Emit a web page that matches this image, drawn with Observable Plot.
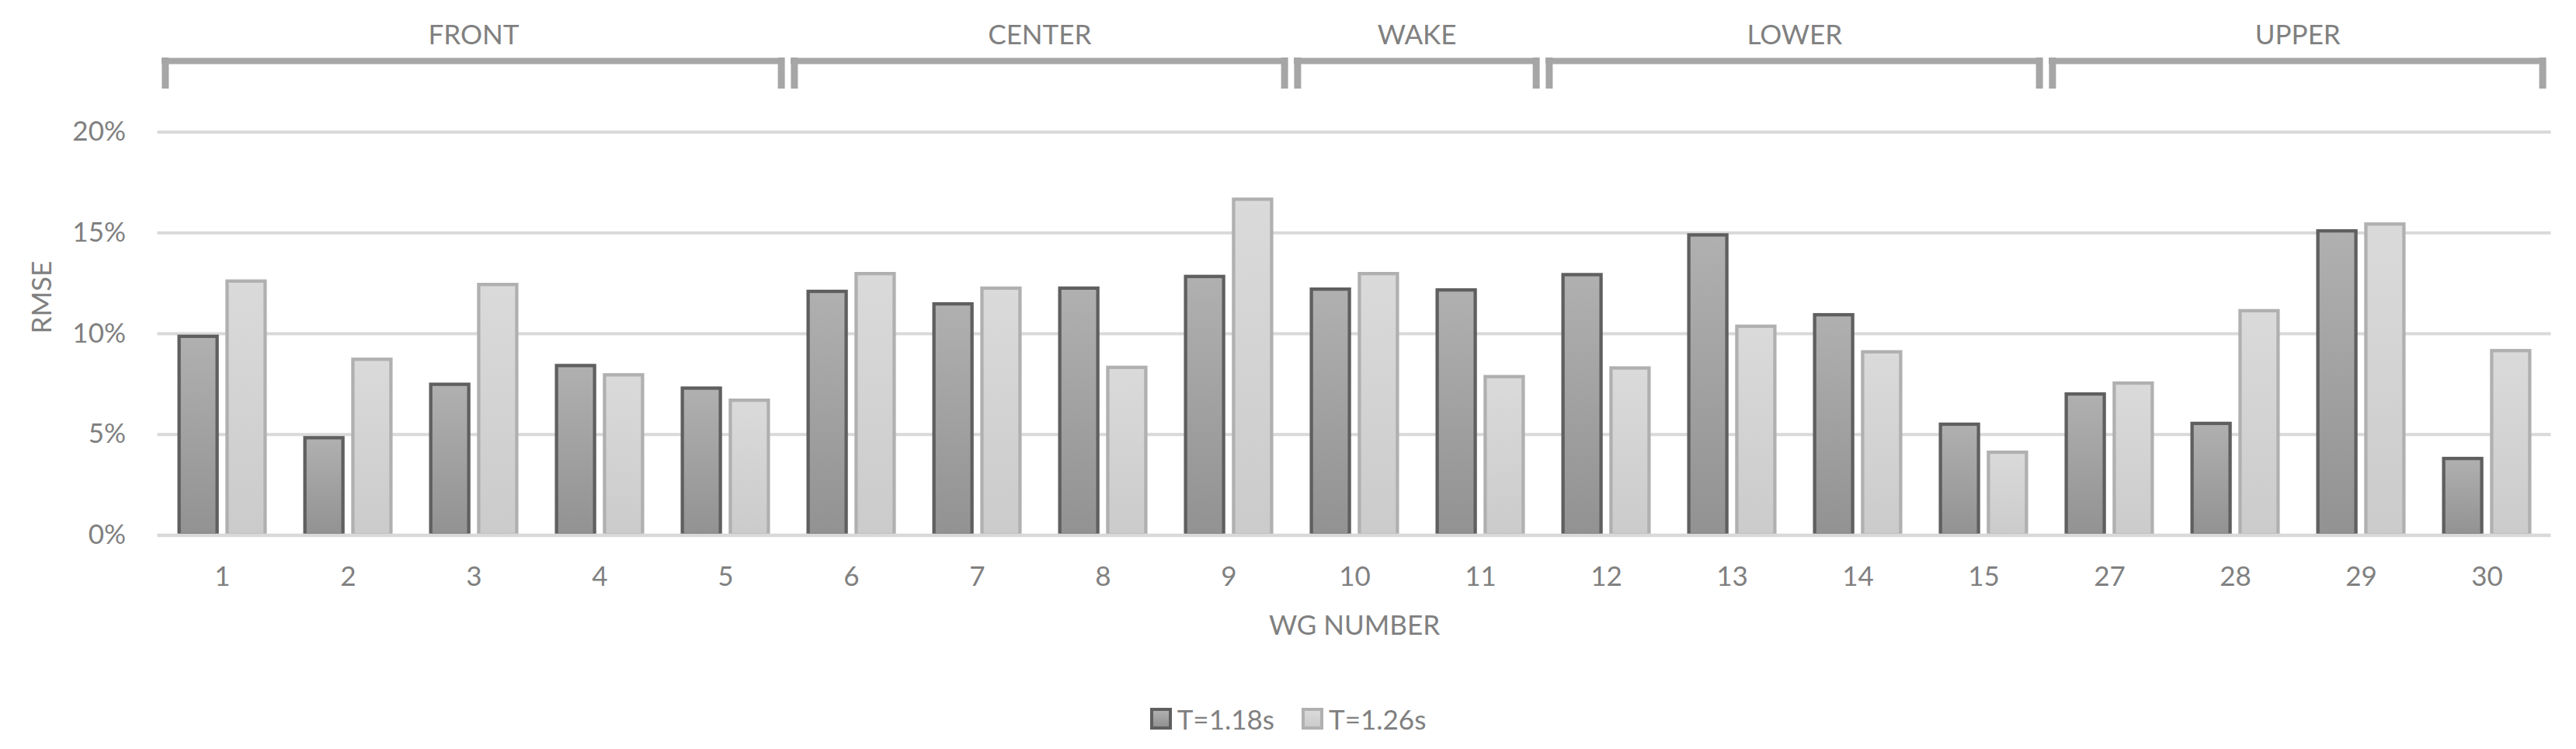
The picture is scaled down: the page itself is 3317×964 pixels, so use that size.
<!DOCTYPE html>
<html>
<head>
<meta charset="utf-8">
<script src="https://cdn.jsdelivr.net/npm/d3@7"></script>
<script src="https://cdn.jsdelivr.net/npm/@observablehq/plot@0.6"></script>
<style>
  html, body { margin: 0; padding: 0; background: #ffffff; }
  body { width: 3317px; height: 964px; position: relative; overflow: hidden; }
  #chart { position: absolute; left: 0; top: 0; }
  #legend {
    position: absolute; left: 0; top: 900px; width: 3317px; height: 50px;
    display: flex; justify-content: center; align-items: center;
    font-family: Lato, "Open Sans", sans-serif; font-size: 35px; color: #808080;
  }
  .sw { display: inline-block; width: 28px; height: 28px; box-sizing: border-box; border: 4px solid; margin-right: 7px; }
  .sw.dark { border-color: #5f5f5f; background: linear-gradient(#b0b0b0, #929292); }
  .sw.light { border-color: #b0b0b0; background: linear-gradient(#dadada, #cbcbcb); }
  .gap { display: inline-block; width: 35px; }
</style>
</head>
<body>
<svg width="0" height="0" style="position:absolute">
  <defs>
    <linearGradient id="gradDark" x1="0" y1="0" x2="0" y2="1">
      <stop offset="0" stop-color="#b0b0b0"/>
      <stop offset="1" stop-color="#929292"/>
    </linearGradient>
    <linearGradient id="gradLight" x1="0" y1="0" x2="0" y2="1">
      <stop offset="0" stop-color="#dadada"/>
      <stop offset="1" stop-color="#cbcbcb"/>
    </linearGradient>
  </defs>
</svg>
<div id="chart"></div>
<div id="legend">
  <span class="sw dark"></span><span>T=1.18s</span><span class="gap"></span>
  <span class="sw light"></span><span>T=1.26s</span>
</div>
<script>
// ---- data ----
const wgNumbers = ["1","2","3","4","5","6","7","8","9","10","11","12","13","14","15","27","28","29","30"];
const rmseT118 = [9.85, 4.82, 7.47, 8.40, 7.28, 12.08, 11.46, 12.24, 12.82, 12.19, 12.15, 12.91, 14.88, 10.92, 5.49, 6.99, 5.53, 15.08, 3.79];
const rmseT126 = [12.59, 8.71, 12.42, 7.94, 6.68, 12.96, 12.24, 8.31, 16.65, 12.96, 7.85, 8.28, 10.35, 9.08, 4.10, 7.53, 11.12, 15.42, 9.14];
const seriesNames = ["T=1.18s", "T=1.26s"];
const yTicks = [0, 5, 10, 15, 20];
const groupNames = ["FRONT", "CENTER", "WAKE", "LOWER", "UPPER"];
const groupFirst = ["1", "6", "10", "12", "27"];
const groupLast = ["5", "9", "11", "15", "30"];

// ---- layout ----
const W = 3317, H = 850;
const mL = 202.5, mR = 32.5, mT = 169.5, mB = 161.6;
const bw = (W - mL - mR) / wgNumbers.length;
const barW = 49.2, barGap = 12.6;
const side = (bw - (2 * barW + barGap)) / 2;

// bracket levels (in % units above the 20% line)
const bracketY = 23.53, legTop = 23.68, legBottom = 22.14;
const brInL = 3, brInR = 5, legW = 9;

const dark = wgNumbers.map((wg, i) => ({wg, v: rmseT118[i], s: seriesNames[0]}));
const light = wgNumbers.map((wg, i) => ({wg, v: rmseT126[i], s: seriesNames[1]}));
const groups = groupNames.map((name, i) => ({
  name, first: groupFirst[i], last: groupLast[i],
  n: wgNumbers.indexOf(groupLast[i]) - wgNumbers.indexOf(groupFirst[i]) + 1
}));

const bracketColor = "#a6a6a6";

const marks = [
  Plot.ruleY(yTicks.filter(d => d > 0), {stroke: "#d9d9d9", strokeWidth: 4}),
  Plot.barY(dark, {x: "wg", y: "v", fill: "url(#gradDark)", stroke: "#5f5f5f", strokeWidth: 4.3,
    insetLeft: side, insetRight: bw - side - barW}),
  Plot.barY(light, {x: "wg", y: "v", fill: "url(#gradLight)", stroke: "#b0b0b0", strokeWidth: 4.3,
    insetLeft: side + barW + barGap, insetRight: side}),
  Plot.ruleY([0], {stroke: "#d9d9d9", strokeWidth: 4.5}),
  // brackets
  Plot.ruleY(groups, {x1: "first", x2: "last", y: () => bracketY, stroke: bracketColor, strokeWidth: 8,
    insetLeft: brInL, insetRight: brInR}),
  Plot.ruleX(groups, {x: "first", y1: () => legBottom, y2: () => legTop, stroke: bracketColor, strokeWidth: legW,
    dx: -bw / 2 + brInL + legW / 2}),
  Plot.ruleX(groups, {x: "last", y1: () => legBottom, y2: () => legTop, stroke: bracketColor, strokeWidth: legW,
    dx: bw / 2 - brInR - legW / 2}),
  ...groups.map(g => Plot.text([g], {x: "first", text: "name", frameAnchor: "top", dy: -138,
    dx: (g.n - 1) / 2 * bw + (brInL - brInR) / 2, fill: "#808080"})),
  // axis titles
  Plot.text(["RMSE"], {text: d => d, frameAnchor: "left", dx: -148, rotate: -90, fill: "#808080"}),
  Plot.text(["WG NUMBER"], {text: d => d, frameAnchor: "bottom", dy: 128, fill: "#808080"})
];

const chart = Plot.plot({
  width: W, height: H,
  marginLeft: mL, marginRight: mR, marginTop: mT, marginBottom: mB,
  style: {fontFamily: "Lato, 'Open Sans', sans-serif", fontSize: "35px", color: "#808080", background: "#ffffff", overflow: "visible"},
  x: {type: "band", domain: wgNumbers, padding: 0, tickSize: 0, tickPadding: 40, label: null},
  y: {domain: [0, 20], ticks: yTicks, tickFormat: d => d + "%", tickSize: 0, tickPadding: 41, label: null},
  marks
});
document.getElementById("chart").appendChild(chart);
</script>
</body>
</html>
